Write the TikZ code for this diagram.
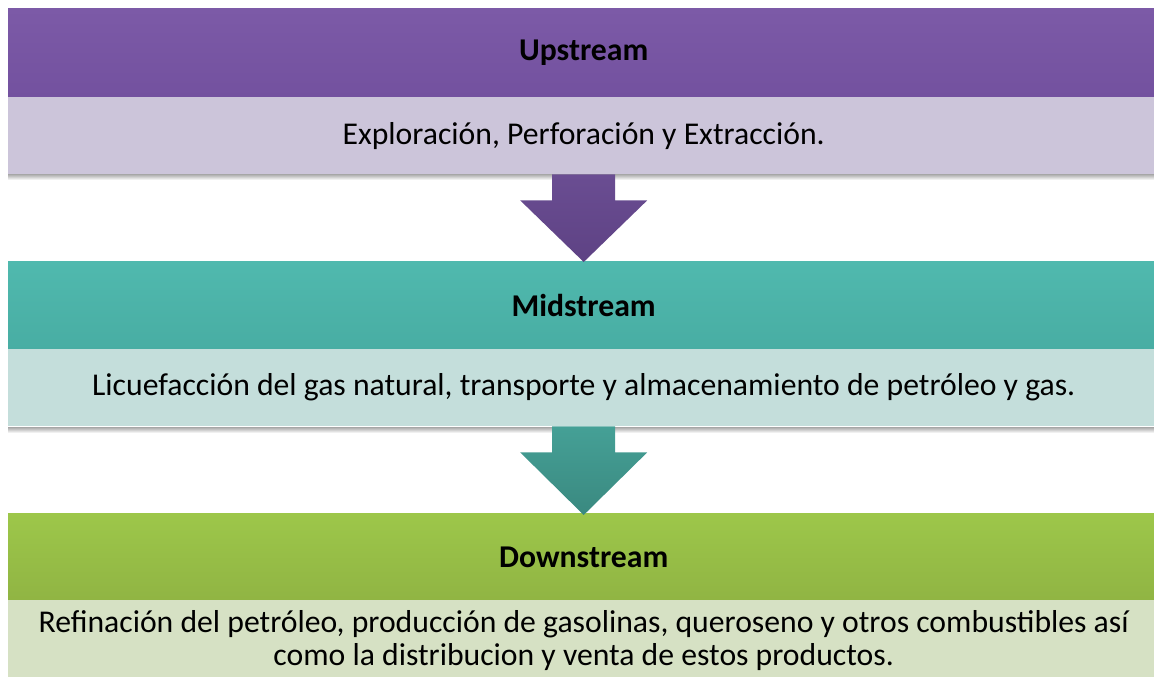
\documentclass[tikz,border=0pt]{standalone}
\usepackage{fontspec}
\setmainfont{Carlito}
\usetikzlibrary{calc}
\definecolor{purpH1}{HTML}{7C5AA7}
\definecolor{purpH2}{HTML}{73519F}
\definecolor{purpB}{HTML}{CCC5DA}
\definecolor{purpA1}{HTML}{6A4D92}
\definecolor{purpA2}{HTML}{5E4284}
\definecolor{tealH1}{HTML}{50B9AE}
\definecolor{tealH2}{HTML}{48ADA3}
\definecolor{tealB}{HTML}{C4DEDB}
\definecolor{tealA1}{HTML}{45A096}
\definecolor{tealA2}{HTML}{3A8980}
\definecolor{grnH1}{HTML}{9DC74A}
\definecolor{grnH2}{HTML}{90B443}
\definecolor{grnB}{HTML}{D6E1C4}
\tikzset{
  hdr/.style={rectangle, minimum width=1151pt, minimum height=89pt, inner sep=0pt, font=\fontsize{31.7}{33}\selectfont\bfseries, text=black},
  bdy/.style={rectangle, minimum width=1151pt, minimum height=77pt, inner sep=0pt, font=\fontsize{31.7}{33}\selectfont, text=black, align=center},
  shd/.style={top color=black!35, bottom color=white, draw=none},
}
\begin{document}
\begin{tikzpicture}[x=1pt,y=-1pt]
\useasboundingbox (0,0) rectangle (1154,677);
% Upstream
\node[hdr, top color=purpH1, bottom color=purpH2, anchor=north west] (h1) at (8,8) {Upstream};
\shade[shd] (8,174) rectangle (1159,180);
\node[bdy, fill=purpB, anchor=north west] (b1) at (8,97) {Exploración, Perforación y Extracción.};
% Midstream
\node[hdr, top color=tealH1, bottom color=tealH2, anchor=north west] (h2) at (8,261) {Midstream};
\shade[shd] (8,427) rectangle (1159,433);
\node[bdy, fill=tealB, anchor=north west] (b2) at (8,349) {Licuefacción del gas natural, transporte y almacenamiento de petróleo y gas.};
% Downstream
\node[hdr, top color=grnH1, bottom color=grnH2, anchor=north west] (h3) at (8,513) {Downstream};
\node[bdy, fill=grnB, anchor=north west, minimum height=80pt] (b3) at (8,600) {Refinación del petróleo, producción de gasolinas, queroseno y otros combustibles así\\como la distribucion y venta de estos productos.};
% block arrows
\coordinate (a1s) at ($(b1.south)+(0,0)$);
\coordinate (a1e) at ($(h2.north)+(0,1)$);
\shade[top color=purpA1, bottom color=purpA2]
  ($(a1s)+(-31.5,0)$) -- ($(a1s)+(31.5,0)$) -- ($(a1s)+(31.5,26)$) -- ($(a1s)+(63.5,26)$)
  -- (a1e) -- ($(a1s)+(-63.5,26)$) -- ($(a1s)+(-31.5,26)$) -- cycle;
\coordinate (a2s) at ($(b2.south)+(0,0)$);
\coordinate (a2e) at ($(h3.north)+(0,2)$);
\shade[top color=tealA1, bottom color=tealA2]
  ($(a2s)+(-31.5,0)$) -- ($(a2s)+(31.5,0)$) -- ($(a2s)+(31.5,26)$) -- ($(a2s)+(63.5,26)$)
  -- (a2e) -- ($(a2s)+(-63.5,26)$) -- ($(a2s)+(-31.5,26)$) -- cycle;
\end{tikzpicture}
\end{document}
